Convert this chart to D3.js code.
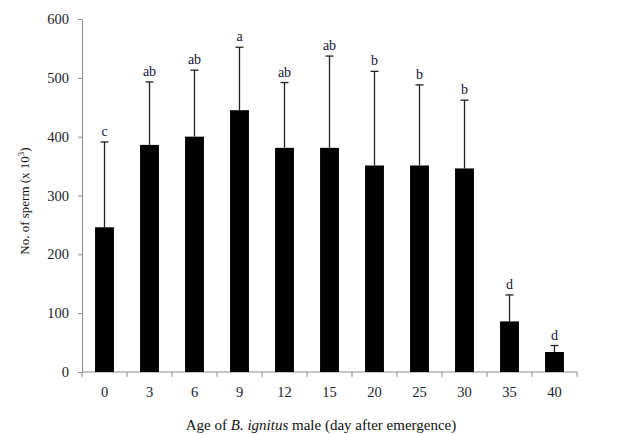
<!DOCTYPE html>
<html>
<head>
<meta charset="utf-8">
<script src="https://cdn.jsdelivr.net/npm/d3@7"></script>
<style>
  body { margin: 0; background: #fff; }
  svg { display: block; font-family: "Liberation Serif", "Times New Roman", serif; }
</style>
</head>
<body>
<svg id="chart" width="623" height="434"></svg>
<script>
// Sperm count by male age (mean with upward SD bar), with significance letters
const ages = ["0", "3", "6", "9", "12", "15", "20", "25", "30", "35", "40"];
const means = [246, 386, 400, 445, 381, 381, 351, 351, 346, 86, 34];
const upper = [391, 493, 513, 552, 492, 537, 511, 488, 462, 131, 45];
const groups = ["c", "ab", "ab", "a", "ab", "ab", "b", "b", "b", "d", "d"];
const yTicks = [0, 100, 200, 300, 400, 500, 600];

const svg = d3.select("#chart");
const margin = { left: 82, right: 46, top: 19, bottom: 62 };
const W = 623, H = 434;

const x = d3.scaleBand().domain(ages)
  .range([margin.left, W - margin.right]).paddingInner(0.58).paddingOuter(0.29);
const y = d3.scaleLinear().domain([0, 600]).range([H - margin.bottom, margin.top]);

const axisColor = "#8c8c8c";
const textColor = "#1c1c30";

// y axis
const yAxis = svg.append("g").attr("transform", `translate(${margin.left},0)`)
  .call(d3.axisLeft(y).tickValues(yTicks).tickSize(4).tickPadding(9));
yAxis.select(".domain").attr("stroke", axisColor);
yAxis.selectAll(".tick line").attr("stroke", axisColor);
yAxis.selectAll(".tick text").attr("font-size", 14.5).attr("fill", textColor)
  .attr("font-family", "Liberation Serif, serif");

// x axis: ticks at category boundaries
const x0 = margin.left, x1 = W - margin.right;
const step = (x1 - x0) / ages.length;
const xg = svg.append("g");
xg.append("line").attr("x1", x0).attr("x2", x1)
  .attr("y1", y(0)).attr("y2", y(0)).attr("stroke", axisColor);
d3.range(ages.length + 1).forEach(i => {
  xg.append("line").attr("x1", x0 + i * step).attr("x2", x0 + i * step)
    .attr("y1", y(0)).attr("y2", y(0) + 5).attr("stroke", axisColor);
});
xg.selectAll("text.xl").data(ages).join("text")
  .attr("x", d => x(d) + x.bandwidth() / 2).attr("y", y(0) + 25)
  .attr("text-anchor", "middle").attr("font-size", 14.5).attr("fill", textColor)
  .text(d => d);

// bars
svg.selectAll("rect.bar").data(ages).join("rect")
  .attr("x", d => x(d)).attr("width", x.bandwidth())
  .attr("y", (d, i) => y(means[i])).attr("height", (d, i) => y(0) - y(means[i]))
  .attr("fill", "#000");

// error bars (upward only)
const eb = svg.append("g").attr("stroke", "#222").attr("stroke-width", 1.3);
ages.forEach((d, i) => {
  const cx = x(d) + x.bandwidth() / 2;
  eb.append("line").attr("x1", cx).attr("x2", cx).attr("y1", y(means[i])).attr("y2", y(upper[i]));
  eb.append("line").attr("x1", cx - 4).attr("x2", cx + 4).attr("y1", y(upper[i])).attr("y2", y(upper[i]));
});

// significance letters
svg.selectAll("text.sig").data(ages).join("text")
  .attr("x", d => x(d) + x.bandwidth() / 2)
  .attr("y", (d, i) => y(upper[i]) - 6)
  .attr("text-anchor", "middle").attr("font-size", 14)
  .attr("fill", "#14143a")
  .text((d, i) => groups[i]);

// axis titles
const yt = svg.append("text")
  .attr("transform", `translate(29,201) rotate(-90)`)
  .attr("text-anchor", "middle").attr("font-size", 13).attr("fill", "#111");
yt.append("tspan").text("No. of sperm (x 10");
yt.append("tspan").attr("font-size", 9).attr("dy", -5).text("3");
yt.append("tspan").attr("dy", 5).text(")");

const xt = svg.append("text")
  .attr("x", 321).attr("y", 430)
  .attr("text-anchor", "middle").attr("font-size", 15).attr("fill", "#111");
xt.append("tspan").text("Age of ");
xt.append("tspan").attr("font-style", "italic").text("B. ignitus");
xt.append("tspan").text(" male (day after emergence)");
</script>
</body>
</html>
